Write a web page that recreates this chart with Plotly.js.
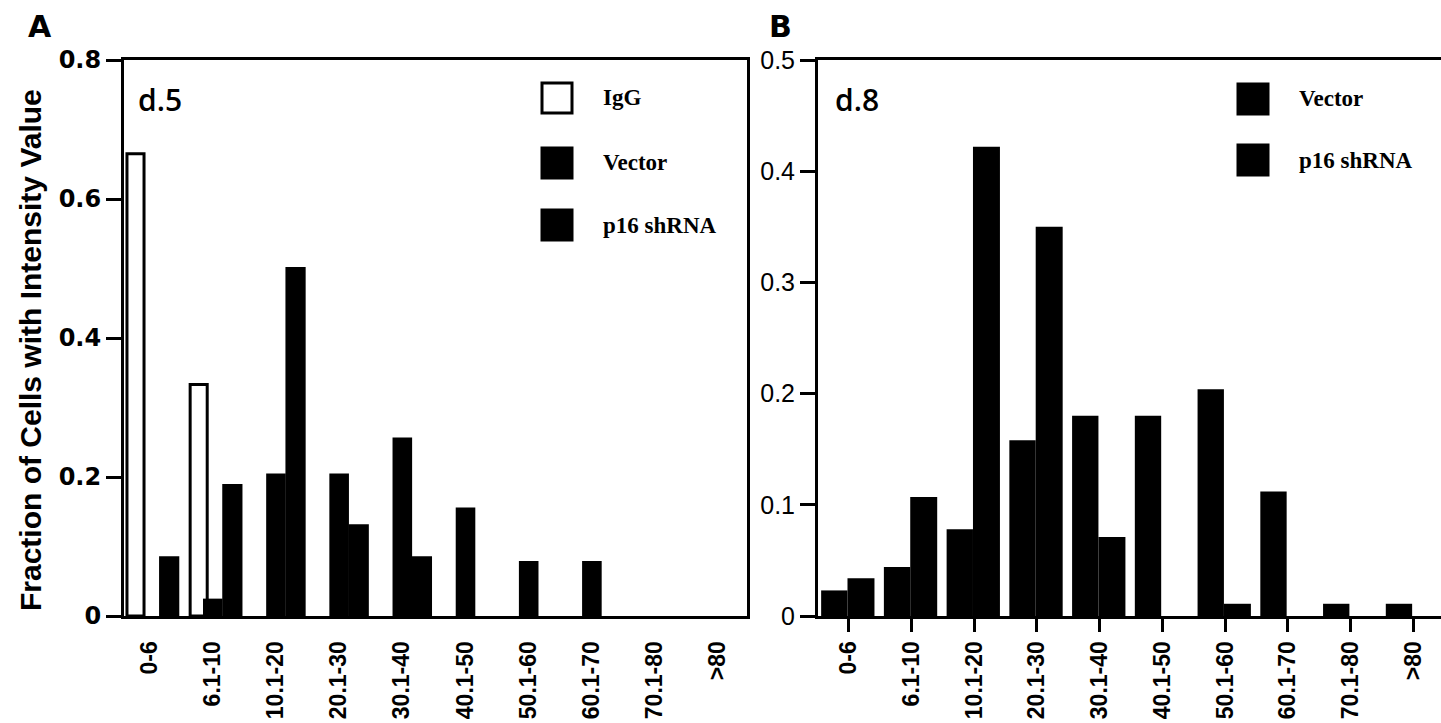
<!DOCTYPE html>
<html>
<head>
<meta charset="utf-8">
<script src="https://cdn.plot.ly/plotly-3.0.1.min.js"></script>
<style>
  html, body { margin: 0; padding: 0; background: #ffffff; }
  #chart { width: 1441px; height: 723px; }
</style>
</head>
<body>
<div id="chart"></div>
<script>
// ---------- data ----------
const categories = ['0-6', '6.1-10', '10.1-20', '20.1-30', '30.1-40', '40.1-50', '50.1-60', '60.1-70', '70.1-80', '>80'];

// Panel A (d.5)
const igg_d5    = [0.665, 0.333, 0, 0, 0, 0, 0, 0, 0, 0];
const vector_d5 = [0, 0.025, 0.205, 0.205, 0.257, 0.156, 0.079, 0.079, 0, 0];
const p16_d5    = [0.086, 0.19, 0.502, 0.132, 0.086, 0, 0, 0, 0, 0];

// Panel B (d.8)
const vector_d8 = [0.023, 0.044, 0.078, 0.158, 0.18, 0.18, 0.204, 0.112, 0.011, 0.011];
const p16_d8    = [0.034, 0.107, 0.422, 0.35, 0.071, 0, 0.011, 0, 0, 0];

const seriesA = ['IgG', 'Vector', 'p16 shRNA'];
const seriesB = ['Vector', 'p16 shRNA'];
const panelLabels = ['A', 'B'];
const dayLabels = ['d.5', 'd.8'];
const yTitle = 'Fraction of Cells with Intensity Value';
const yTicksA = [0, 0.2, 0.4, 0.6, 0.8];
const yTickTextA = ['0', '0.2', '0.4', '0.6', '0.8'];
const yTicksB = [0, 0.1, 0.2, 0.3, 0.4, 0.5];
const yTickTextB = ['0', '0.1', '0.2', '0.3', '0.4', '0.5'];

// ---------- layout helpers ----------
const W = 1441, H = 723;
const px = x => x / W;
const py = y => 1 - y / H;

const BLACK = '#000000';
const sansBold = {family: 'Liberation Sans, Arial, sans-serif', color: BLACK, weight: 700};

const traces = [
  {type: 'bar', x: categories, y: igg_d5, name: seriesA[0], xaxis: 'x', yaxis: 'y',
   offset: -0.353, width: 0.27,
   marker: {color: '#ffffff', line: {color: BLACK, width: igg_d5.map(v => v > 0 ? 3 : 0)}}},
  {type: 'bar', x: categories, y: vector_d5, name: seriesA[1], xaxis: 'x', yaxis: 'y',
   offset: -0.15, width: 0.31,
   marker: {color: BLACK, line: {color: BLACK, width: 0}}},
  {type: 'bar', x: categories, y: p16_d5, name: seriesA[2], xaxis: 'x', yaxis: 'y',
   offset: 0.155, width: 0.32,
   marker: {color: BLACK, line: {color: BLACK, width: 0}}},
  {type: 'bar', x: categories, y: vector_d8, name: seriesB[0], xaxis: 'x2', yaxis: 'y2',
   offset: -0.44, width: 0.42,
   marker: {color: BLACK, line: {color: BLACK, width: 0}}},
  {type: 'bar', x: categories, y: p16_d8, name: seriesB[1], xaxis: 'x2', yaxis: 'y2',
   offset: -0.02, width: 0.43,
   marker: {color: BLACK, line: {color: BLACK, width: 0}}}
];

const yDomain = [py(616), py(60)];

const layout = {
  width: W, height: H,
  margin: {l: 0, r: 0, t: 0, b: 0},
  paper_bgcolor: '#ffffff', plot_bgcolor: '#ffffff',
  showlegend: false,
  barmode: 'overlay',
  hovermode: false,
  xaxis: {
    domain: [px(124), px(747)],
    type: 'category', range: [-0.40, 9.46],
    showline: true, linecolor: BLACK, linewidth: 3, mirror: true,
    ticks: 'outside', ticklen: 13, tickwidth: 3, tickcolor: 'rgba(0,0,0,0)',
    tickangle: -90, tickfont: Object.assign({size: 23}, sansBold),
    showgrid: false, zeroline: false, fixedrange: true
  },
  yaxis: {
    domain: yDomain, anchor: 'x',
    range: [0, 0.8], tickvals: yTicksA, ticktext: yTickTextA,
    showline: true, linecolor: BLACK, linewidth: 3, mirror: true,
    ticks: 'outside', ticklen: 15, tickwidth: 3, tickcolor: BLACK,
    tickfont: {family: 'DejaVu Sans, sans-serif', size: 24, color: BLACK, weight: 700},
    showgrid: false, zeroline: false, fixedrange: true
  },
  xaxis2: {
    domain: [px(818), 1], anchor: 'y2',
    type: 'category', range: [-0.49, 9.44],
    showline: true, linecolor: BLACK, linewidth: 3, mirror: true,
    ticks: 'outside', ticklen: 13, tickwidth: 3, tickcolor: BLACK,
    tickangle: -90, tickfont: Object.assign({size: 23}, sansBold),
    showgrid: false, zeroline: false, fixedrange: true
  },
  yaxis2: {
    domain: yDomain, anchor: 'x2',
    range: [0, 0.5], tickvals: yTicksB, ticktext: yTickTextB,
    showline: true, linecolor: BLACK, linewidth: 3, mirror: false,
    ticks: 'outside', ticklen: 15, tickwidth: 3, tickcolor: BLACK,
    tickfont: {family: 'Liberation Sans, Arial, sans-serif', size: 25, color: BLACK, weight: 500},
    showgrid: false, zeroline: false, fixedrange: true
  },
  shapes: [],
  annotations: []
};

// Panel letters
const letterFont = {family: 'DejaVu Sans, sans-serif', size: 30, color: BLACK, weight: 700};
layout.annotations.push({xref: 'paper', yref: 'paper', x: px(40), y: py(27), text: panelLabels[0],
  showarrow: false, xanchor: 'center', yanchor: 'middle', font: letterFont});
layout.annotations.push({xref: 'paper', yref: 'paper', x: px(780), y: py(27), text: panelLabels[1],
  showarrow: false, xanchor: 'center', yanchor: 'middle', font: letterFont});

// Day labels
const dayFont = {family: 'Open Sans, sans-serif', size: 30, color: BLACK, weight: 600};
layout.annotations.push({xref: 'paper', yref: 'paper', x: px(136), y: py(100), text: dayLabels[0],
  showarrow: false, xanchor: 'left', yanchor: 'middle', font: dayFont});
layout.annotations.push({xref: 'paper', yref: 'paper', x: px(833), y: py(100), text: dayLabels[1],
  showarrow: false, xanchor: 'left', yanchor: 'middle', font: dayFont});

// Y axis title
layout.annotations.push({xref: 'paper', yref: 'paper', x: px(30), y: py(350), text: yTitle,
  showarrow: false, textangle: -90, xanchor: 'center', yanchor: 'middle',
  font: {family: 'Liberation Sans, Arial, sans-serif', size: 30, color: BLACK, weight: 700}});

// Legends (drawn as boxes + text)
const legFont = {family: 'Liberation Serif, Times New Roman, serif', size: 23, color: BLACK, weight: 700};
function legendItem(x0, yc, label, filled) {
  layout.shapes.push({type: 'rect', xref: 'paper', yref: 'paper',
    x0: px(x0), x1: px(x0 + 30), y0: py(yc + 15), y1: py(yc - 15),
    fillcolor: filled ? BLACK : '#ffffff', line: {color: BLACK, width: 3}});
  layout.annotations.push({xref: 'paper', yref: 'paper', x: px(x0 + 59), y: py(yc), text: label,
    showarrow: false, xanchor: 'left', yanchor: 'middle', font: legFont});
}
legendItem(542, 98, seriesA[0], false);
legendItem(542, 163, seriesA[1], true);
legendItem(542, 225, seriesA[2], true);
legendItem(1238, 99, seriesB[0], true);
legendItem(1238, 160, seriesB[1], true);

Plotly.newPlot('chart', traces, layout, {staticPlot: true, displayModeBar: false});
</script>
</body>
</html>
